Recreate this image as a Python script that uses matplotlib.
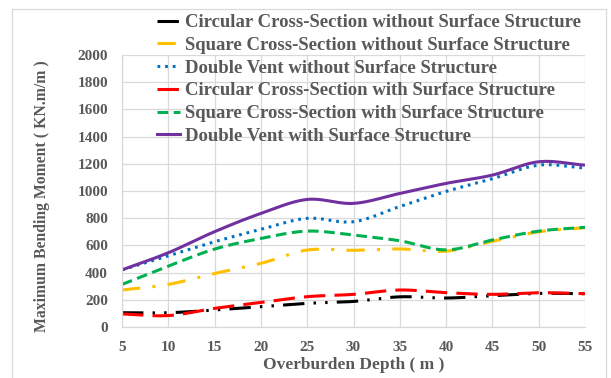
import numpy as np
import matplotlib
matplotlib.use("Agg")
import matplotlib.pyplot as plt
from matplotlib.lines import Line2D

depth = [5, 10, 15, 20, 25, 30, 35, 40, 45, 50, 55]

circ_without = [105, 105, 125, 150, 174, 188, 222, 213, 230, 247, 245]
square_without = [272, 313, 394, 468, 566, 564, 574, 558, 630, 700, 730]
vent_without = [420, 524, 627, 718, 799, 774, 886, 997, 1090, 1190, 1168]
circ_with = [96, 84, 137, 180, 223, 240, 272, 252, 240, 252, 245]
square_with = [313, 448, 573, 651, 705, 676, 634, 567, 640, 705, 733]
vent_with = [420, 546, 701, 835, 938, 909, 982, 1056, 1117, 1215, 1190]

labels = [
    "Circular Cross-Section without Surface Structure",
    "Square Cross-Section without Surface Structure",
    "Double Vent without Surface Structure",
    "Circular Cross-Section with Surface Structure",
    "Square Cross-Section with Surface Structure",
    "Double Vent with Surface Structure",
]
series = [circ_without, square_without, vent_without, circ_with, square_with, vent_with]
colors = ["#000000", "#FFC000", "#0070C0", "#FF0000", "#00B050", "#7030A0"]
styles = [(0, (7, 3, 0.8, 3, 0.8, 3)), (0, (6, 4, 1, 4)), (0, (0.9, 1.6)),
          (0, (7, 3)), (0, (3.5, 1.8)), "-"]


def smooth(x, y, n=30):
    """Catmull-Rom curve through the points (like a spreadsheet smoothed line)."""
    x = np.asarray(x, float)
    y = np.asarray(y, float)
    px = np.concatenate([[2 * x[0] - x[1]], x, [2 * x[-1] - x[-2]]])
    py = np.concatenate([[2 * y[0] - y[1]], y, [2 * y[-1] - y[-2]]])
    xs, ys = [], []
    t = np.linspace(0, 1, n, endpoint=False)
    for i in range(1, len(px) - 2):
        for arr, out in ((px, xs), (py, ys)):
            p0, p1, p2, p3 = arr[i - 1], arr[i], arr[i + 1], arr[i + 2]
            out.extend(0.5 * ((2 * p1) + (-p0 + p2) * t
                              + (2 * p0 - 5 * p1 + 4 * p2 - p3) * t ** 2
                              + (-p0 + 3 * p1 - 3 * p2 + p3) * t ** 3))
    xs.append(x[-1])
    ys.append(y[-1])
    return np.array(xs), np.array(ys)


plt.rcParams["font.family"] = ["Liberation Serif", "DejaVu Serif"]
plt.rcParams["font.weight"] = "bold"
text_color = "#595959"
grid_color = "#d9d9d9"

fig = plt.figure(figsize=(6.11, 3.78), dpi=100)
ax = fig.add_axes([122 / 611, 51 / 378, 463 / 611, 272 / 378])

for vals, c, ls, lab in zip(series, colors, styles, labels):
    sx, sy = smooth(depth, vals)
    ax.plot(sx, sy, color=c, linestyle=ls, linewidth=2.2, label=lab,
            dash_capstyle="butt", solid_capstyle="butt")

ax.set_xlim(5, 55)
ax.set_ylim(0, 2000)
ax.set_xticks(depth)
ax.set_yticks(range(0, 2001, 200))
ax.grid(True, color=grid_color, linewidth=0.9)
ax.set_axisbelow(True)
for side in ("top", "right"):
    ax.spines[side].set_visible(False)
for side in ("left", "bottom"):
    ax.spines[side].set_color(grid_color)
    ax.spines[side].set_linewidth(0.9)
ax.tick_params(length=0, colors=text_color, labelsize=11, pad=10)
for lbl in ax.get_xticklabels() + ax.get_yticklabels():
    lbl.set_fontweight("bold")

ax.set_xlabel("Overburden Depth ( m )", fontsize=12.5, fontweight="bold",
              color=text_color)
ax.set_ylabel("Maximum Bending Moment ( KN.m/m )", fontsize=11.3, fontweight="bold",
              color=text_color)
ax.xaxis.set_label_coords(0.5, -0.11)
ax.yaxis.set_label_coords(-0.155, 0.48)

handles = [Line2D([0], [0], color=c, linestyle=ls, linewidth=2.2)
           for c, ls in zip(colors, styles)]
leg = fig.legend(handles, labels, loc="upper left", bbox_to_anchor=(157 / 611, 1 - 14 / 378),
                 frameon=False, fontsize=13.5, handlelength=1.2, handletextpad=0.3,
                 labelspacing=0.3, borderaxespad=0, borderpad=0)
for t in leg.get_texts():
    t.set_color(text_color)
    t.set_fontweight("bold")

# light frame around the chart area
fig.add_artist(Line2D([12 / 611, 12 / 611], [0, 1 - 9 / 378], transform=fig.transFigure,
                      color=grid_color, linewidth=0.9))
fig.add_artist(Line2D([12 / 611, 606 / 611], [1 - 9 / 378, 1 - 9 / 378], transform=fig.transFigure,
                      color=grid_color, linewidth=0.9))
fig.add_artist(Line2D([606 / 611, 606 / 611], [0, 1 - 9 / 378], transform=fig.transFigure,
                      color=grid_color, linewidth=0.9))

fig.savefig("out.png", dpi=100)
